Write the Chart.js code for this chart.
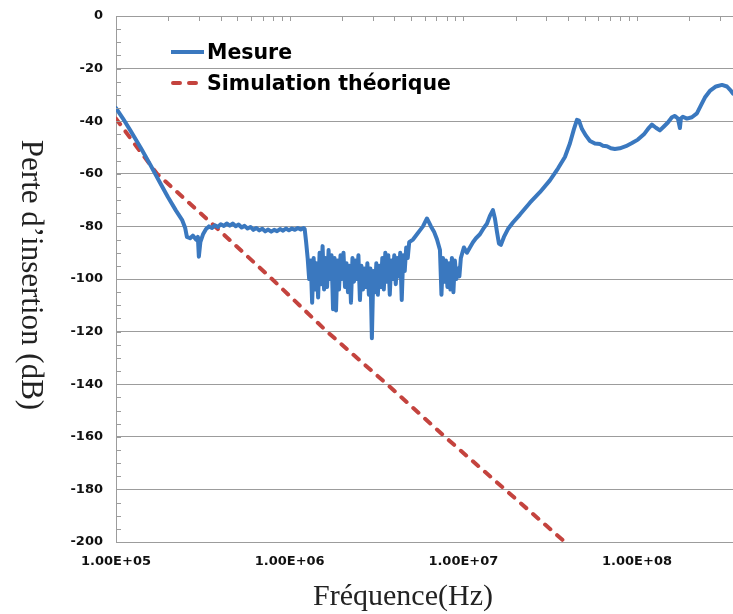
<!DOCTYPE html>
<html>
<head>
<meta charset="utf-8">
<title>Perte d'insertion</title>
<script src="https://cdn.jsdelivr.net/npm/chart.js@4.4.1/dist/chart.umd.min.js"></script>
<style>
  html, body { margin: 0; padding: 0; background: #ffffff; }
  #wrap { position: relative; width: 733px; height: 614px; }
</style>
</head>
<body>
<div id="wrap"><canvas id="chart" width="733" height="614"></canvas></div>
<script>
// Axis ticks
const xTickValues = [1e5, 1e6, 1e7, 1e8];
const yTickMin = -200;
const yTickMax = 0;

// Measured insertion loss: frequency (Hz) and level (dB), row by row
const measFreq = [
  // roll-off
  1.00e5, 1.097e5, 1.204e5, 1.393e5, 1.590e5, 1.79e5, 1.99e5, 2.215e5, 2.40e5, 2.50e5,
  2.56e5, 2.67e5, 2.77e5, 2.887e5, 2.96e5, 3.00e5, 3.06e5, 3.17e5,
  // plateau
  3.30e5, 3.43e5, 3.57e5, 3.71e5, 3.86e5, 4.01e5, 4.18e5, 4.34e5, 4.52e5, 4.70e5,
  4.89e5, 5.08e5, 5.29e5, 5.50e5, 5.72e5, 5.95e5, 6.18e5, 6.43e5, 6.69e5, 6.96e5,
  7.23e5, 7.52e5, 7.83e5, 8.14e5, 8.46e5, 8.80e5, 9.16e5, 9.52e5, 9.90e5, 1.030e6,
  1.071e6, 1.114e6, 1.158e6, 1.204e6,
  // noisy band 1
  1.220e6, 1.244e6, 1.269e6, 1.295e6, 1.321e6, 1.347e6, 1.374e6, 1.401e6, 1.429e6, 1.458e6,
  1.487e6, 1.517e6, 1.547e6, 1.578e6, 1.610e6, 1.642e6, 1.675e6, 1.708e6, 1.742e6, 1.777e6,
  1.813e6, 1.849e6, 1.886e6, 1.924e6, 1.962e6, 2.001e6, 2.041e6, 2.082e6, 2.124e6, 2.166e6,
  2.210e6, 2.254e6, 2.299e6, 2.345e6, 2.392e6, 2.440e6, 2.488e6, 2.538e6, 2.589e6, 2.641e6,
  2.693e6, 2.747e6, 2.802e6, 2.858e6, 2.916e6, 2.974e6, 3.033e6, 3.094e6, 3.156e6, 3.219e6,
  3.283e6, 3.349e6, 3.416e6, 3.484e6, 3.554e6, 3.625e6, 3.697e6, 3.771e6, 3.847e6, 3.924e6,
  4.002e6, 4.082e6, 4.164e6, 4.247e6, 4.332e6, 4.419e6, 4.507e6, 4.597e6, 4.689e6, 4.783e6,
  4.879e6,
  // resonance ~6 MHz
  5.129e6, 5.408e6, 5.622e6, 5.854e6, 6.010e6, 6.172e6, 6.341e6, 6.510e6, 6.779e6, 7.054e6,
  // noisy band 2
  7.334e6, 7.481e6, 7.630e6, 7.783e6, 7.939e6, 8.097e6, 8.259e6, 8.424e6, 8.593e6, 8.765e6,
  8.940e6, 9.119e6, 9.301e6, 9.487e6, 9.677e6, 9.870e6,
  // rise to HF
  1.008e7, 1.049e7, 1.091e7, 1.136e7, 1.182e7, 1.246e7, 1.314e7, 1.367e7, 1.422e7, 1.480e7,
  1.520e7, 1.561e7, 1.603e7, 1.646e7, 1.713e7, 1.806e7, 1.930e7, 2.118e7, 2.418e7, 2.760e7,
  3.150e7, 3.504e7, 3.845e7, 4.106e7, 4.333e7, 4.511e7, 4.632e7, 4.822e7, 5.083e7, 5.358e7,
  5.723e7, 6.112e7, 6.364e7, 6.708e7, 7.072e7, 7.455e7, 7.962e7, 8.631e7, 9.357e7,
  1.012e8, 1.096e8, 1.171e8, 1.218e8, 1.285e8, 1.354e8, 1.428e8, 1.506e8, 1.588e8, 1.653e8,
  1.720e8, 1.766e8, 1.789e8, 1.837e8, 1.937e8, 2.070e8, 2.212e8, 2.333e8, 2.459e8, 2.626e8,
  2.847e8, 3.085e8, 3.296e8, 3.479e8, 3.569e8
];
const measDb = [
  // roll-off
  -35, -39, -43.3, -50.3, -57, -63.3, -68.8, -74, -77.5, -80.5,
  -84, -84.5, -83.5, -85, -84, -91.5, -86, -83,
  // plateau
  -81, -80, -80.6, -79.6, -80.2, -79.2, -79.8, -78.9, -79.7, -78.9,
  -79.9, -79.3, -80.4, -79.8, -80.8, -80.2, -81.3, -80.6, -81.5, -80.9,
  -81.9, -81.2, -82, -81.3, -81.8, -81, -81.6, -80.8, -81.5, -80.8,
  -81.3, -80.6, -81.2, -80.6,
  // noisy band 1
  -81, -86, -92, -100, -93, -109, -92, -104, -94, -107,
  -90, -102, -87.5, -104, -92, -103, -89, -100, -91, -111.5,
  -92, -112, -93, -104, -91, -100, -90, -103, -94, -105,
  -95, -109, -92, -101, -93, -100, -91, -108, -95, -104,
  -96, -103, -94, -106, -96, -122.5, -97, -105, -94, -106,
  -95, -103, -92, -104, -90, -101, -91, -106, -93, -100,
  -91, -102, -92, -99, -90, -108, -91, -97, -88, -92,
  -86,
  // resonance ~6 MHz
  -85, -83, -81.5, -80, -78.5, -77, -78.5, -80, -82, -85,
  // noisy band 2
  -89, -106, -92, -101, -93, -103, -94, -104, -92, -105,
  -93, -100, -96, -99, -92, -90,
  // rise to HF
  -88, -90, -88, -86, -84.5, -83, -80.5, -79, -76, -73.8,
  -77, -82, -86.5, -87, -84, -81, -78.5, -75.5, -71, -67,
  -62.5, -58, -53.6, -48.5, -43, -39.5, -39.8, -43, -45.5, -47.5,
  -48.5, -48.7, -49.3, -49.5, -50.3, -50.6, -50.3, -49.5, -48.3,
  -47, -45, -42.5, -41.3, -42.5, -43.5, -42, -40.5, -38.5, -38,
  -39, -42.6, -39, -38.3, -39, -38.5, -37, -34, -31, -28.5,
  -26.8, -26.2, -26.8, -28.5, -29.5
];

// Theoretical simulation (Hz, dB)
const simFreq = [1.0e5, 1.316e5, 1.722e5, 3.715e5, 7.91e5, 1.64e6, 3.633e6, 7.834e6, 1.736e7, 3.846e7];
const simDb = [-39, -49.7, -60, -80, -100, -120, -140, -160, -180, -200];

const seriesLabels = ['Mesure', 'Simulation théorique'];
const axisTitleX = 'Fréquence(Hz)';
const axisTitleY = 'Perte d\u2019insertion (dB)';

const BLUE = '#3a78bf';
const RED = '#c4433e';
const GRID = '#9c9c9c';
const TICK_FONT = { family: '"DejaVu Sans", Verdana, sans-serif', size: 13, weight: 'bold' };

/**
 * Format like Excel scientific: 1.00E+05
 */
function sciLabel(v) {
  const e = Math.round(Math.log10(v));
  const m = v / Math.pow(10, e);
  return m.toFixed(2) + 'E+' + String(e).padStart(2, '0');
}

function toPoints(xs, ys) {
  if (xs.length !== ys.length) console.warn('length mismatch', xs.length, ys.length);
  return xs.map((x, i) => ({ x, y: ys[i] }));
}

/**
 * Minor ticks: log ticks under the top (0 dB) line, 5 dB ticks along the left axis
 */
const minorTicks = {
  id: 'minorTicks',
  afterDraw(chart) {
    const { ctx, chartArea, scales } = chart;
    const xs = scales.x;
    const ys = scales.y;
    ctx.save();
    ctx.strokeStyle = GRID;
    ctx.lineWidth = 1;
    ctx.beginPath();
    for (let k = 5; k <= 8; k++) {
      for (let n = 1; n <= 9; n++) {
        const v = n * Math.pow(10, k);
        if (v < xs.min || v > xs.max) continue;
        const px = Math.round(xs.getPixelForValue(v)) + 0.5;
        ctx.moveTo(px, chartArea.top);
        ctx.lineTo(px, chartArea.top + 5);
      }
    }
    for (let v = yTickMin; v <= yTickMax; v += 5) {
      const py = Math.round(ys.getPixelForValue(v)) + 0.5;
      ctx.moveTo(chartArea.left, py);
      ctx.lineTo(chartArea.left + 5, py);
    }
    ctx.stroke();
    ctx.restore();
  }
};

/**
 * Axis titles (the y title reads top to bottom) and the legend inside the plot
 */
const titlesAndLegend = {
  id: 'titlesAndLegend',
  afterDraw(chart) {
    const { ctx } = chart;
    ctx.save();

    // axis titles
    ctx.fillStyle = '#222222';
    ctx.font = '30px "Liberation Serif", "DejaVu Serif", serif';
    ctx.textAlign = 'center';
    ctx.textBaseline = 'middle';
    ctx.fillText(axisTitleX, 403, 597);

    ctx.font = '31px "Liberation Serif", "DejaVu Serif", serif';
    ctx.translate(30, 275);
    ctx.rotate(Math.PI / 2);
    ctx.fillText(axisTitleY, 0, 0);
    ctx.setTransform(1, 0, 0, 1, 0, 0);

    // legend
    ctx.lineWidth = 4;
    ctx.strokeStyle = BLUE;
    ctx.beginPath();
    ctx.moveTo(171, 52);
    ctx.lineTo(204, 52);
    ctx.stroke();

    ctx.strokeStyle = RED;
    ctx.lineCap = 'round';
    ctx.setLineDash([7, 9]);
    ctx.beginPath();
    ctx.moveTo(173, 83);
    ctx.lineTo(199, 83);
    ctx.stroke();
    ctx.setLineDash([]);

    ctx.fillStyle = '#000000';
    ctx.font = 'bold 20.5px "DejaVu Sans", Verdana, sans-serif';
    ctx.textAlign = 'left';
    ctx.textBaseline = 'alphabetic';
    ctx.fillText(seriesLabels[0], 207, 59);
    ctx.fillText(seriesLabels[1], 207, 90);

    ctx.restore();
  }
};

function drawChart() {
  const ctx = document.getElementById('chart').getContext('2d');

  new Chart(ctx, {
    type: 'line',
    data: {
      datasets: [
        {
          label: seriesLabels[0],
          data: toPoints(measFreq, measDb),
          borderColor: BLUE,
          borderWidth: 4,
          pointRadius: 0,
          tension: 0,
          borderJoinStyle: 'round',
          borderCapStyle: 'round'
        },
        {
          label: seriesLabels[1],
          data: toPoints(simFreq, simDb),
          borderColor: RED,
          borderWidth: 4,
          borderDash: [7, 9],
          borderCapStyle: 'round',
          pointRadius: 0,
          tension: 0
        }
      ]
    },
    options: {
      responsive: false,
      animation: false,
      devicePixelRatio: 1,
      layout: {
        padding: { top: 16, left: 0, right: 0, bottom: 0 }
      },
      plugins: {
        legend: { display: false },
        tooltip: { enabled: false }
      },
      scales: {
        x: {
          type: 'logarithmic',
          min: 1e5,
          max: 3.57e8,
          afterBuildTicks: scale => {
            scale.ticks = xTickValues.map(v => ({ value: v }));
          },
          afterFit: scale => {
            scale.height = 72;
            scale.paddingLeft = 0;
            scale.paddingRight = 0;
          },
          grid: { display: false, drawTicks: false },
          border: { display: true, color: GRID, width: 1 },
          ticks: {
            autoSkip: false,
            maxRotation: 0,
            padding: 12,
            color: '#111111',
            font: TICK_FONT,
            callback: v => sciLabel(v)
          }
        },
        y: {
          type: 'linear',
          min: yTickMin,
          max: yTickMax,
          afterFit: scale => {
            scale.width = 116;
            scale.paddingTop = 0;
            scale.paddingBottom = 0;
          },
          grid: { color: GRID, lineWidth: 1, drawTicks: false },
          border: { display: true, color: GRID, width: 1 },
          ticks: {
            stepSize: 20,
            padding: 13,
            color: '#111111',
            font: TICK_FONT,
            callback: v => String(v)
          }
        }
      }
    },
    plugins: [minorTicks, titlesAndLegend]
  });
}

drawChart();
</script>
</body>
</html>
